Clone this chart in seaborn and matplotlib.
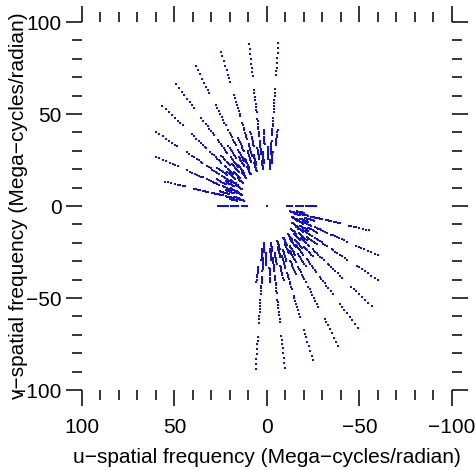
import numpy as np
import pandas as pd
import matplotlib
matplotlib.use("Agg")
import matplotlib.pyplot as plt
import seaborn as sns
from matplotlib.ticker import MultipleLocator

# Outer end (highest channel) of the longest baseline at each time sample (Mega-cycles/radian)
time_u = [-6.1, 9.7, 24.9, 38.6, 49.2, 56.6, 60.2, 60.0, 55.1, 49.0]
time_v = [88.4, 87.9, 83.9, 76.2, 66.3, 54.3, 40.4, 26.8, 13.2, 0.0]
# Baseline lengths relative to the longest one, and their small rotation (deg)
baseline_frac = [1.0, 0.72, 0.54, 0.47, 0.40, 0.36, 0.33, 0.28]
baseline_rot = [0.0, 0.0, 0.0, 4.0, 0.0, -3.0, 2.0, 0.0]
# Channel frequencies relative to the highest channel
channel_frac = [1.0, 0.969, 0.938, 0.907, 0.878, 0.851, 0.827, 0.806]
# (time sample, baseline) pairs with no data
flagged = [(9, 0), (9, 1), (9, 3), (9, 5), (9, 6)]
# isolated point near the origin
extra_u = [0.0]
extra_v = [0.0]

rows = []
for i, (tu, tv) in enumerate(zip(time_u, time_v)):
    for k, (b, rot) in enumerate(zip(baseline_frac, baseline_rot)):
        if (i, k) in flagged:
            continue
        a = np.deg2rad(rot)
        ru = tu * np.cos(a) - tv * np.sin(a)
        rv = tu * np.sin(a) + tv * np.cos(a)
        for f in channel_frac:
            rows.append((ru * b * f, rv * b * f))
            rows.append((-ru * b * f, -rv * b * f))
for eu, ev in zip(extra_u, extra_v):
    rows.append((eu, ev))
df = pd.DataFrame(rows, columns=["u", "v"])

sns.set_theme(style="white")
plt.rcParams["font.family"] = ["Liberation Sans", "DejaVu Sans"]
plt.rcParams["text.color"] = "black"
plt.rcParams["axes.labelcolor"] = "black"
plt.rcParams["xtick.color"] = "black"
plt.rcParams["ytick.color"] = "black"

fig = plt.figure(figsize=(4.77, 4.70), dpi=100)
ax = fig.add_axes([82 / 477, 1 - 390 / 470, 370 / 477, 368 / 470])
sns.scatterplot(data=df, x="u", y="v", color="#1212d4", s=4.2, marker="s",
                linewidth=0, ax=ax, legend=False)

ax.set_xlim(100, -100)
ax.set_ylim(-100, 100)
ticks = [100, 50, 0, -50, -100]
ax.set_xticks(ticks)
ax.set_xticklabels([str(t).replace("-", "\u2212") for t in ticks])
ax.set_yticks(ticks)
ax.set_yticklabels([str(t).replace("-", "\u2212") for t in ticks])
ax.xaxis.set_minor_locator(MultipleLocator(10))
ax.yaxis.set_minor_locator(MultipleLocator(10))
for s in ax.spines.values():
    s.set_visible(False)
ax.tick_params(which="both", direction="out", color="black", labelcolor="black",
               bottom=True, top=True, left=True, right=True,
               labelbottom=True, labelleft=True, labeltop=False, labelright=False)
ax.tick_params(which="major", length=11.5, width=1.1, labelsize=15)
ax.tick_params(which="minor", length=7.0, width=1.1)
ax.tick_params(axis="x", which="major", pad=9)
ax.tick_params(axis="y", which="major", pad=3)

ax.set_xlabel("u\u2212spatial frequency (Mega\u2212cycles/radian)", fontsize=15, color="black")
ax.set_ylabel("v\u2212spatial frequency (Mega\u2212cycles/radian)", fontsize=15, color="black")
ax.xaxis.set_label_coords(0.5, -0.158)
ax.yaxis.set_label_coords(-0.146, 0.5)

fig.savefig("out.png", dpi=100)
